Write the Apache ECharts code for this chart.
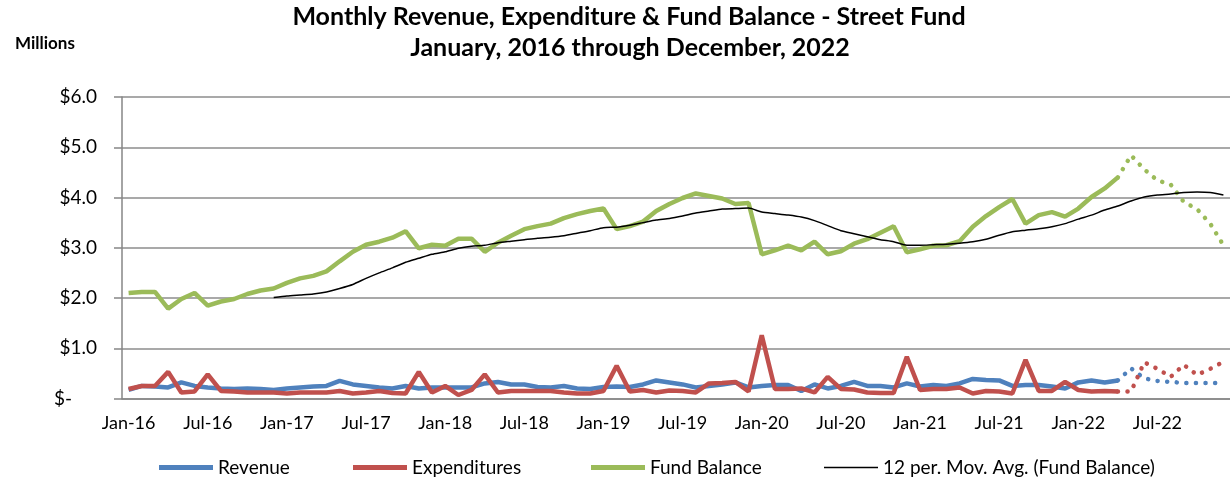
<!DOCTYPE html>
<html>
<head>
<meta charset="utf-8">
<script src="https://cdn.jsdelivr.net/npm/echarts@6/dist/echarts.min.js"></script>
<style>
  html, body { margin: 0; padding: 0; background: #fff; }
  #main { width: 1230px; height: 480px; }
</style>
</head>
<body>
<div id="main"></div>
<script>
// months Jan-16 .. Dec-22
var months = ['Jan', 'Feb', 'Mar', 'Apr', 'May', 'Jun', 'Jul', 'Aug', 'Sep', 'Oct', 'Nov', 'Dec'];
var years = ['16', '17', '18', '19', '20', '21', '22'];

// actuals, Jan-16 .. Apr-22 ($ millions)
var revenue = [
  0.17, 0.25, 0.24, 0.22, 0.32, 0.25, 0.22, 0.20, 0.19, 0.20, 0.19, 0.17,
  0.20, 0.22, 0.24, 0.25, 0.35, 0.28, 0.25, 0.22, 0.20, 0.25, 0.20, 0.22,
  0.22, 0.22, 0.22, 0.30, 0.33, 0.28, 0.28, 0.23, 0.22, 0.25, 0.20, 0.19,
  0.23, 0.24, 0.23, 0.28, 0.36, 0.32, 0.28, 0.22, 0.25, 0.28, 0.32, 0.22,
  0.25, 0.27, 0.27, 0.15, 0.28, 0.20, 0.25, 0.33, 0.25, 0.25, 0.22, 0.30,
  0.24, 0.27, 0.25, 0.30, 0.39, 0.37, 0.36, 0.25, 0.27, 0.27, 0.24, 0.20,
  0.32, 0.36, 0.32, 0.36
];
var expenditures = [
  0.19, 0.25, 0.25, 0.53, 0.12, 0.14, 0.48, 0.15, 0.14, 0.12, 0.12, 0.12,
  0.10, 0.12, 0.12, 0.12, 0.15, 0.10, 0.12, 0.15, 0.11, 0.10, 0.53, 0.12,
  0.25, 0.07, 0.17, 0.48, 0.12, 0.15, 0.15, 0.15, 0.15, 0.12, 0.10, 0.10,
  0.15, 0.65, 0.14, 0.17, 0.12, 0.16, 0.15, 0.12, 0.30, 0.31, 0.33, 0.14,
  1.26, 0.19, 0.19, 0.20, 0.12, 0.43, 0.19, 0.18, 0.12, 0.11, 0.11, 0.83,
  0.17, 0.19, 0.19, 0.22, 0.10, 0.15, 0.14, 0.10, 0.77, 0.15, 0.15, 0.33,
  0.17, 0.14, 0.15, 0.14
];
var fundBalance = [
  2.10, 2.12, 2.12, 1.79, 1.98, 2.10, 1.85, 1.93, 1.98, 2.08, 2.15, 2.19,
  2.30, 2.39, 2.44, 2.53, 2.73, 2.92, 3.06, 3.12, 3.20, 3.33, 2.99, 3.06,
  3.04, 3.18, 3.18, 2.92, 3.10, 3.24, 3.37, 3.43, 3.48, 3.59, 3.67, 3.73,
  3.78, 3.37, 3.43, 3.52, 3.73, 3.87, 3.99, 4.08, 4.03, 3.98, 3.87, 3.89,
  2.87, 2.95, 3.04, 2.95, 3.12, 2.87, 2.93, 3.08, 3.17, 3.30, 3.43, 2.91,
  2.97, 3.04, 3.05, 3.13, 3.42, 3.63, 3.81, 3.97, 3.48, 3.65, 3.71, 3.62,
  3.78, 4.01, 4.18, 4.40
];

// projected, Apr-22 .. Dec-22 (dotted)
var revenueProj = [0.36, 0.60, 0.40, 0.35, 0.33, 0.31, 0.31, 0.31, 0.31];
var expendProj = [0.14, 0.14, 0.72, 0.59, 0.43, 0.67, 0.47, 0.59, 0.73];
var balanceProj = [4.40, 4.84, 4.56, 4.34, 4.26, 3.91, 3.77, 3.48, 3.05];

// 12 per. moving average, Dec-16 .. Dec-22
var movAvg = [
  2.01,
  2.04, 2.06, 2.08, 2.12, 2.19, 2.27, 2.39, 2.50, 2.60, 2.71, 2.79, 2.87,
  2.92, 2.99, 3.03, 3.05, 3.10, 3.13, 3.16, 3.19, 3.21, 3.24, 3.29, 3.34,
  3.40, 3.41, 3.45, 3.50, 3.55, 3.58, 3.63, 3.69, 3.73, 3.77, 3.78, 3.79,
  3.71, 3.68, 3.65, 3.61, 3.54, 3.44, 3.34, 3.28, 3.22, 3.16, 3.12, 3.05,
  3.05, 3.06, 3.07, 3.09, 3.12, 3.17, 3.25, 3.32, 3.35, 3.38, 3.42, 3.48,
  3.57, 3.65, 3.75, 3.83, 3.93, 4.01, 4.05, 4.07, 4.10, 4.11, 4.10, 4.05
];

var yTicks = ['$-', '$1.0', '$2.0', '$3.0', '$4.0', '$5.0', '$6.0'];
var legendNames = ['Revenue', 'Expenditures', 'Fund Balance', '12 per. Mov. Avg. (Fund Balance)'];

var categories = [];
years.forEach(function (y) {
  months.forEach(function (m) { categories.push(m + '-' + y); });
});
var n = categories.length;

function padLeft(arr) {
  var out = [];
  for (var i = 0; i < n - arr.length; i++) out.push(null);
  return out.concat(arr);
}

var BLUE = '#4F81BD', RED = '#C0504D', GREEN = '#9BBB59';
var FONT = 'Lato';
var dots = [0.1, 9.5];

// one legend box per entry so each sits where the original puts it
var legendLeft = [154, 348, 586, 819];
var legendColor = [BLUE, RED, GREEN, '#000'];
var legends = legendNames.map(function (name, i) {
  return {
    left: legendLeft[i],
    top: 453,
    icon: 'rect',
    itemWidth: 54,
    itemHeight: i === 3 ? 1.5 : 5,
    textStyle: { fontFamily: FONT, fontSize: 19, color: '#000' },
    data: [{ name: name, itemStyle: { color: legendColor[i] } }]
  };
});

var myChart = echarts.init(document.getElementById('main'));
myChart.setOption({
  animation: false,
  textStyle: { fontFamily: FONT },
  graphic: [
    {
      type: 'text', x: 629, y: 17,
      style: {
        text: 'Monthly Revenue, Expenditure & Fund Balance - Street Fund',
        fill: '#000', font: 'bold 25px Lato', align: 'center', verticalAlign: 'middle'
      }
    },
    {
      type: 'text', x: 630, y: 48,
      style: {
        text: 'January, 2016 through December, 2022',
        fill: '#000', font: 'bold 25px Lato', align: 'center', verticalAlign: 'middle'
      }
    },
    {
      type: 'text', x: 15, y: 44,
      style: { text: 'Millions', fill: '#000', font: 'bold 17px Lato', verticalAlign: 'middle' }
    }
  ],
  legend: legends,
  grid: { left: 122, top: 97, width: 1109, height: 301.5 },
  xAxis: {
    type: 'category',
    data: categories,
    boundaryGap: true,
    axisLine: { lineStyle: { color: '#868686', width: 1.5 } },
    axisTick: { interval: 2, length: 7, lineStyle: { color: '#868686', width: 1.5 } },
    axisLabel: { interval: 5, margin: 16, fontSize: 18, color: '#000', fontFamily: FONT },
    splitLine: { show: false }
  },
  yAxis: {
    type: 'value',
    min: 0,
    max: 6,
    interval: 1,
    axisLine: { show: true, lineStyle: { color: '#868686', width: 1.5 } },
    axisTick: { show: true, length: 8, lineStyle: { color: '#868686', width: 1.5 } },
    axisLabel: {
      margin: 25, fontSize: 19, color: '#000', fontFamily: FONT,
      formatter: function (v) {
        var i = Math.round(v);
        return i === 0 ? '{z|' + yTicks[0] + '}' : yTicks[i];
      },
      rich: { z: { fontSize: 19, fontFamily: FONT, color: '#000', padding: [0, 25, 0, 0] } }
    },
    splitLine: { lineStyle: { color: '#8c8c8c', width: 1.5 } }
  },
  series: [
    {
      name: 'Revenue', type: 'line', data: revenue, symbol: 'none',
      lineStyle: { color: BLUE, width: 4.5 }, itemStyle: { color: BLUE }
    },
    {
      name: 'Expenditures', type: 'line', data: expenditures, symbol: 'none',
      lineStyle: { color: RED, width: 4.5 }, itemStyle: { color: RED }
    },
    {
      name: 'Fund Balance', type: 'line', data: fundBalance, symbol: 'none',
      lineStyle: { color: GREEN, width: 4.5 }, itemStyle: { color: GREEN }
    },
    {
      name: 'Revenue proj', type: 'line', data: padLeft(revenueProj), symbol: 'none',
      lineStyle: { color: BLUE, width: 4.5, type: dots, cap: 'round' }
    },
    {
      name: 'Expenditures proj', type: 'line', data: padLeft(expendProj), symbol: 'none',
      lineStyle: { color: RED, width: 4.5, type: dots, cap: 'round' }
    },
    {
      name: 'Fund Balance proj', type: 'line', data: padLeft(balanceProj), symbol: 'none',
      lineStyle: { color: GREEN, width: 4.5, type: dots, cap: 'round' }
    },
    {
      name: '12 per. Mov. Avg. (Fund Balance)', type: 'line', data: padLeft(movAvg), symbol: 'none',
      smooth: 0.2,
      lineStyle: { color: '#000', width: 1.5 }, itemStyle: { color: '#000' }
    }
  ]
});
</script>
</body>
</html>
